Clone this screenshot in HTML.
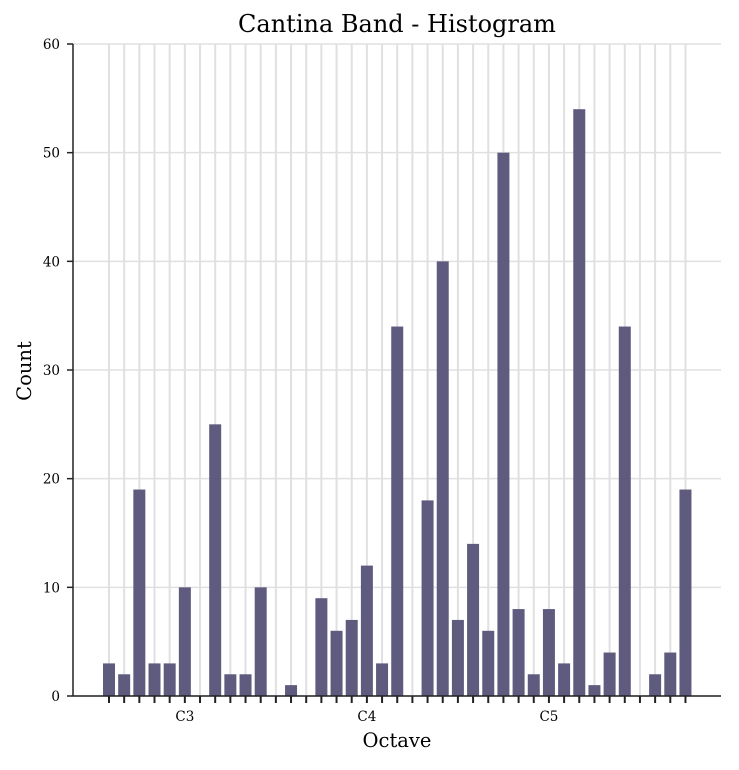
<!DOCTYPE html>
<html><head><meta charset="utf-8"><style>
body{margin:0;background:#fff;}
text{font-family:"DejaVu Serif","Liberation Serif",serif;}
</style></head><body>
<svg id="chart" width="739" height="765" xmlns="http://www.w3.org/2000/svg">
<text x="397" y="32" text-anchor="middle" font-size="24" fill="#000">Cantina Band - Histogram</text>
<text x="397" y="747" text-anchor="middle" font-size="19.5">Octave</text>
<text transform="translate(31,371) rotate(-90)" text-anchor="middle" font-size="19.5">Count</text>
<g id="grid"></g><g id="bars"></g><g id="axes"></g>
</svg>
<script>
const counts=[3,2,19,3,3,10,0,25,2,2,10,0,1,0,9,6,7,12,3,34,0,18,40,7,14,6,50,8,2,8,3,54,1,4,34,0,2,4,19];
const octaveLabels=["C3","C4","C5"];
const octaveIndex=[5,17,29];
const yTicks=[0,10,20,30,40,50,60];
const NS="http://www.w3.org/2000/svg";
const X0=73,X1=721,Y0=696,Y1=44,YMAX=60;
const firstX=109,step=15.17;
function xs(i){return firstX+i*step;}
function ys(v){return Y0-(v/YMAX)*(Y0-Y1);}
function mk(t,a,p){const e=document.createElementNS(NS,t);for(const k in a)e.setAttribute(k,a[k]);p.appendChild(e);return e;}
const grid=document.getElementById('grid'),bars=document.getElementById('bars'),axes=document.getElementById('axes');
yTicks.forEach(v=>{
 const l=mk('line',{x1:X0,x2:X1,y1:ys(v),y2:ys(v),stroke:'#e0e0e0','stroke-width':1.5},grid);
 
 
 const t=mk('text',{x:X0-13,y:ys(v)+5,'text-anchor':'end','font-size':13.5},axes);t.textContent=v;
 
 
 mk('line',{x1:X0-6,x2:X0,y1:ys(v),y2:ys(v),stroke:'#222','stroke-width':1.5},axes);
});
counts.forEach((c,i)=>{
 const g=mk('line',{x1:xs(i),x2:xs(i),y1:Y1,y2:Y0,stroke:'#e0e0e0','stroke-width':2},grid);
 
 
 if(c>0){const r=mk('rect',{x:xs(i)-6,y:ys(c),width:12,height:Y0-ys(c),fill:'#5f5b7f'},bars);
 
 }
 mk('line',{x1:xs(i),x2:xs(i),y1:Y0,y2:Y0+7,stroke:'#222','stroke-width':2},axes);
});
octaveLabels.forEach((s,k)=>{
 const t=mk('text',{x:xs(octaveIndex[k]),y:721,'text-anchor':'middle','font-size':13.5},axes);t.textContent=s;
 
 
});
const xa=mk('line',{x1:X0,x2:X1,y1:Y0,y2:Y0,stroke:'#222','stroke-width':1.5},axes);


const ya=mk('line',{x1:X0,x2:X0,y1:Y1,y2:Y0,stroke:'#222','stroke-width':1.5},axes);


</script>
</body></html>
